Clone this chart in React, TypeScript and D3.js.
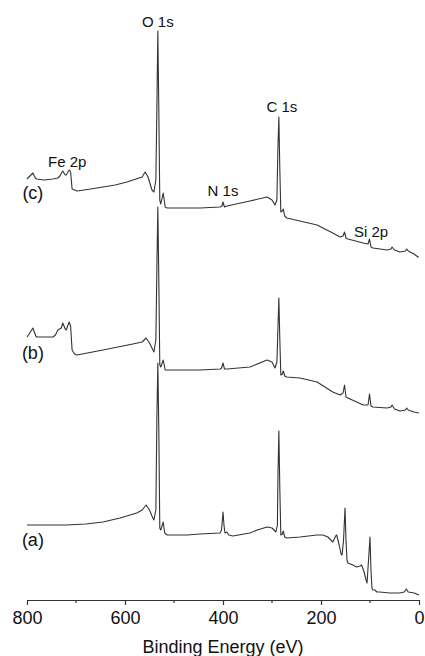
import { useEffect, useRef } from "react";
import * as d3 from "d3";

// Binding energy (eV) / intensity (a.u., stacked as displayed)
const SPEC_C_E = [800, 798, 788, 783, 780, 765, 747, 737, 733, 727, 722, 720, 714, 711, 708, 698, 670, 645, 620, 596, 565, 559, 553, 545, 541, 537, 535, 533, 531, 529, 527, 522, 518, 514, 473, 447, 406, 402, 400, 397, 392, 345, 310, 300, 294, 290, 288, 286, 284, 282, 279, 277, 274, 270, 243, 208, 176, 161, 155, 152, 149, 145, 114, 104, 101, 98, 94, 65, 57, 55, 50, 39, 28, 25, 22, 10, 2, 0];
const SPEC_C_I = [421, 422, 427, 422, 421, 420, 421, 422, 424, 429, 425, 425, 430, 428, 411, 409, 411, 413, 415, 418, 423, 428, 423, 410, 408, 420, 490, 569, 490, 400, 396, 407, 393, 392, 392, 392, 393, 394, 398, 393, 394, 399, 403, 400, 395, 400, 450, 483, 430, 388, 389, 391, 384, 382, 379, 375, 367, 363, 364, 368, 362, 361, 357, 356, 361, 353, 352, 350, 351, 353, 350, 348, 349, 351, 349, 346, 343, 343];

const SPEC_B_E = [800, 797, 788, 782, 780, 747, 742, 737, 730, 727, 722, 720, 714, 711, 708, 703, 698, 645, 584, 565, 557, 550, 543, 541, 537, 535, 533, 531, 529, 527, 522, 518, 514, 447, 406, 403, 400, 397, 392, 345, 310, 300, 294, 290, 288, 286, 284, 282, 279, 277, 274, 270, 243, 208, 176, 161, 155, 152, 149, 145, 114, 104, 101, 98, 94, 65, 57, 55, 50, 39, 28, 25, 22, 10, 0];
const SPEC_B_I = [263, 265, 272, 264, 263, 263, 265, 270, 272, 277, 271, 270, 278, 274, 250, 246, 245, 250, 256, 258, 262, 257, 250, 248, 260, 330, 393, 320, 235, 233, 240, 230, 230, 230, 231, 232, 237, 231, 231, 233, 240, 238, 232, 238, 270, 302, 260, 225, 226, 229, 224, 223, 222, 218, 208, 205, 207, 215, 203, 202, 195, 195, 206, 194, 193, 192, 193, 195, 191, 189, 190, 192, 190, 188, 187];

const SPEC_A_E = [800, 760, 720, 680, 645, 610, 576, 565, 557, 550, 545, 541, 537, 535, 533, 531, 529, 527, 522, 519, 514, 473, 447, 406, 403, 400, 398, 396, 392, 388, 380, 345, 330, 310, 300, 292, 289, 288, 286, 284, 282, 279, 277, 274, 270, 243, 208, 196, 186, 176, 170, 168, 163, 159, 157, 154, 151, 149, 147, 145, 135, 127, 120, 117, 112, 108, 106, 103, 100, 98, 96, 94, 90, 86, 80, 60, 40, 30, 26, 22, 10, 0];
const SPEC_A_I = [75, 75, 75, 76, 78, 82, 87, 90, 95, 90, 84, 80, 90, 180, 237, 170, 72, 70, 78, 67, 65, 65, 66, 67, 70, 88, 75, 67, 68, 65, 64, 67, 70, 73, 72, 68, 75, 120, 169, 110, 65, 66, 69, 63, 62, 63, 65, 65, 63, 58, 64, 65, 55, 46, 45, 60, 92, 60, 40, 37, 35, 33, 34, 35, 28, 20, 17, 40, 63, 30, 12, 10, 10, 8, 8, 7, 7, 8, 11, 8, 7, 5];

const MAJOR_TICKS = [800, 600, 400, 200, 0];
const MINOR_TICKS = [700, 500, 300, 100];

const PEAK_LABELS = ["O 1s", "C 1s", "Fe 2p", "N 1s", "Si 2p"];
const PEAK_LABEL_E = [533, 280, 718, 400, 98];
const PEAK_LABEL_I = [573, 488, 433, 404, 363];

const CURVE_LABELS = ["(c)", "(b)", "(a)"];
const CURVE_LABEL_I = [401, 241, 54];

const W = 425;
const H = 656;
const X0 = 27;
const X1 = 419;
const Y_AXIS = 600;
const FONT = "'Liberation Sans', Arial, sans-serif";
const INK = "#333";

export default function App() {
  const svgRef = useRef<SVGSVGElement>(null);

  useEffect(() => {
    if (!svgRef.current) return;
    const svg = d3.select(svgRef.current);
    svg.selectAll("*").remove();

    const x = d3.scaleLinear().domain([800, 0]).range([X0, X1]);
    const y = d3.scaleLinear().domain([0, 590]).range([Y_AXIS, 10]);

    const line = d3.line<[number, number]>()
      .x(d => x(d[0]))
      .y(d => y(d[1]));

    const spectra: [number[], number[]][] = [
      [SPEC_C_E, SPEC_C_I],
      [SPEC_B_E, SPEC_B_I],
      [SPEC_A_E, SPEC_A_I],
    ];

    spectra.forEach(([es, is]) => {
      const pts = es.map((e, i) => [e, is[i]] as [number, number]);
      svg.append("path")
        .attr("d", line(pts))
        .attr("fill", "none")
        .attr("stroke", INK)
        .attr("stroke-width", 1.1)
        .attr("stroke-linejoin", "round");
    });

    // x axis
    const ax = svg.append("g").attr("transform", `translate(0,${Y_AXIS})`);
    ax.call(
      d3.axisBottom(x)
        .tickValues(MAJOR_TICKS)
        .tickSize(5)
        .tickSizeOuter(0)
        .tickPadding(6)
        .tickFormat(d3.format("d"))
    );
    ax.selectAll("path, line").attr("stroke", INK).attr("stroke-width", 1.2);
    ax.selectAll("text")
      .attr("fill", "#111")
      .attr("font-size", 18)
      .attr("font-family", FONT);

    ax.selectAll("line.minor")
      .data(MINOR_TICKS)
      .join("line")
      .attr("class", "minor")
      .attr("x1", d => x(d)).attr("x2", d => x(d))
      .attr("y1", 0).attr("y2", 3)
      .attr("stroke", INK).attr("stroke-width", 1.2);

    svg.append("text")
      .attr("x", (X0 + X1) / 2)
      .attr("y", 653)
      .attr("text-anchor", "middle")
      .attr("font-size", 18)
      .attr("font-family", FONT)
      .attr("fill", "#111")
      .text("Binding Energy (eV)");

    // peak labels
    PEAK_LABELS.forEach((t, i) => {
      svg.append("text")
        .attr("x", x(PEAK_LABEL_E[i]))
        .attr("y", y(PEAK_LABEL_I[i]))
        .attr("text-anchor", "middle")
        .attr("font-size", 15)
        .attr("font-family", FONT)
        .attr("fill", "#111")
        .text(t);
    });

    // spectrum labels
    CURVE_LABELS.forEach((t, i) => {
      svg.append("text")
        .attr("x", x(788))
        .attr("y", y(CURVE_LABEL_I[i]))
        .attr("text-anchor", "middle")
        .attr("font-size", 18)
        .attr("font-family", FONT)
        .attr("fill", "#111")
        .text(t);
    });
  }, []);

  return (
    <div style={{ position: "absolute", left: 0, top: 0, background: "#fff" }}>
      <svg ref={svgRef} width={W} height={H} style={{ display: "block" }} />
    </div>
  );
}
